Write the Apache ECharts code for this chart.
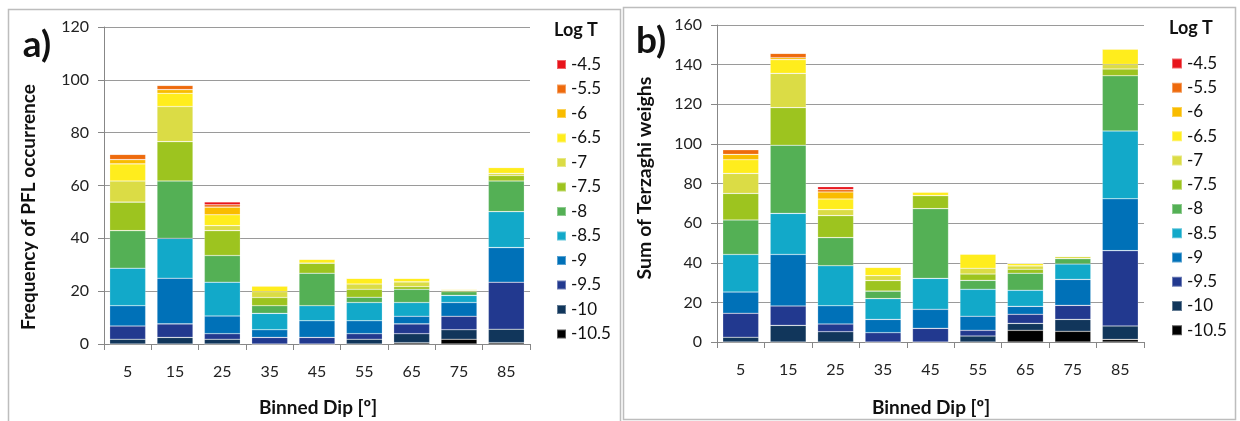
<!DOCTYPE html>
<html>
<head>
<meta charset="utf-8">
<script src="https://cdn.jsdelivr.net/npm/echarts@6/dist/echarts.min.js"></script>
<style>
html,body{margin:0;padding:0;background:#fff;}
#c{width:1240px;height:421px;}
</style>
</head>
<body>
<div id="c"></div>
<script>
// ---- data ----
const categories = ['5','15','25','35','45','55','65','75','85'];
const logTLevels = ['-10.5','-10','-9.5','-9','-8.5','-8','-7.5','-7','-6.5','-6','-5.5','-4.5'];
const levelColors = ['#000000','#11365b','#22398f','#0071b8','#12a9c9','#54b055','#9dc41f','#dbdc45','#ffed1d','#f9bc00','#ee6a0c','#e8141b'];

// panel a) Frequency of PFL occurrence
const freq_m105 = [0,0,0,0,0,0,0.5,1.8,0.5];
const freq_m10  = [1.8,2.5,1.8,0,0,1.8,3.4,3.6,5.1];
const freq_m95  = [5,5.1,2.1,2.5,2.5,2.1,3.7,5.1,17.8];
const freq_m9   = [7.7,17.3,6.7,2.9,6.3,4.9,2.9,5.2,13.1];
const freq_m85  = [14.2,15.1,12.8,6.2,5.7,6.9,5.2,2.7,13.6];
const freq_m8   = [14.2,21.7,10.1,2.9,12.3,2,5,1.4,11.6];
const freq_m75  = [10.8,14.9,9.4,3.1,3.8,3,1,0.5,2.1];
const freq_m7   = [8,13.3,1.9,2.2,0,2,1.8,0,0.8];
const freq_m65  = [6.5,5,4.1,2.2,1.5,2.2,1.4,0.4,2.2];
const freq_m6   = [1.6,1.4,2.9,0,0,0,0,0,0];
const freq_m55  = [2,1.6,0.9,0,0,0,0,0,0];
const freq_m45  = [0,0,1.1,0,0,0,0,0,0];

// panel b) Sum of Terzaghi weighs
const terz_m105 = [0,0,0,0,0,0,5.9,5.4,1.3];
const terz_m10  = [2.4,8.4,5.2,0,0,3,3.5,6,6.8];
const terz_m95  = [12.1,9.8,3.9,4.7,6.9,2.9,4.6,7.1,38];
const terz_m9   = [10.7,26,9.2,6.7,9.6,7.1,4,13.1,26.2];
const terz_m85  = [19,20.7,20.2,10.5,15.6,13.6,8.1,7.8,34.2];
const terz_m8   = [17.4,34.4,14.2,3.8,35.2,4.5,8.6,2.7,27.9];
const terz_m75  = [13.4,19,11.1,5.3,6.6,3.2,2,0,3.4];
const terz_m7   = [10.1,17.3,3,2.5,0,2.9,1.7,1.1,2.3];
const terz_m65  = [6.9,6.9,5.4,4.2,1.8,7.2,1.3,0,7.8];
const terz_m6   = [2.7,1,3.5,0,0,0,0,0,0];
const terz_m55  = [2.4,2.2,1.2,0,0,0,0,0,0];
const terz_m45  = [0,0,1.5,0,0,0,0,0,0];

const freqSeries = [freq_m105,freq_m10,freq_m95,freq_m9,freq_m85,freq_m8,freq_m75,freq_m7,freq_m65,freq_m6,freq_m55,freq_m45];
const terzSeries = [terz_m105,terz_m10,terz_m95,terz_m9,terz_m85,terz_m8,terz_m75,terz_m7,terz_m65,terz_m6,terz_m55,terz_m45];

const FONT = 'Lato, "Open Sans", sans-serif';
const chart = echarts.init(document.getElementById('c'), null, {renderer:'canvas'});

function xAxisCfg(gi){
  return {
    type:'category', gridIndex:gi, data:categories,
    axisLine:{lineStyle:{color:'#878787', width:1}},
    axisTick:{show:true, length:6, lineStyle:{color:'#878787'}},
    axisLabel:{color:'#222', fontSize:16, fontFamily:FONT, margin:20}
  };
}
function yAxisCfg(gi, max){
  return {
    type:'value', gridIndex:gi, min:0, max:max, interval:20,
    axisLine:{show:true, lineStyle:{color:'#878787'}},
    axisTick:{show:true, length:6, lineStyle:{color:'#878787'}},
    axisLabel:{color:'#222', fontSize:16, fontFamily:FONT, margin:15},
    splitLine:{lineStyle:{color:'#9a9a9a', width:1}}
  };
}

const series = [];
freqSeries.forEach((d,i)=>{
  series.push({name:logTLevels[i], type:'bar', stack:'a', xAxisIndex:0, yAxisIndex:0, data:d,
    barWidth:36, itemStyle:{color:levelColors[i], borderColor:'rgba(255,255,255,0.35)', borderWidth:0.6},
    emphasis:{disabled:true}});
});
terzSeries.forEach((d,i)=>{
  series.push({name:logTLevels[i], type:'bar', stack:'b', xAxisIndex:1, yAxisIndex:1, data:d,
    barWidth:36, itemStyle:{color:levelColors[i], borderColor:'rgba(255,255,255,0.35)', borderWidth:0.6},
    emphasis:{disabled:true}});
});

const legendOrder = logTLevels.slice().reverse();
function legendCfg(left, top, gap, sz){
  return {
    orient:'vertical', left:left, top:top, data:legendOrder, padding:0,
    itemWidth:sz, itemHeight:sz, itemGap:gap, icon:'rect',
    textStyle:{fontSize:17, fontFamily:FONT, color:'#111', lineHeight:16},
    selectedMode:false
  };
}

const option = {
  animation:false,
  backgroundColor:'#fff',
  grid:[
    {left:104, top:27, width:426, height:317},
    {left:717, top:25, width:427, height:317}
  ],
  xAxis:[xAxisCfg(0), xAxisCfg(1)],
  yAxis:[yAxisCfg(0,120), yAxisCfg(1,160)],
  legend:[legendCfg(556, 56, 7.5, 9), legendCfg(1171, 55, 7.25, 10)],
  series:series,
  graphic:[
    {type:'rect', shape:{x:8.5,y:9.5,width:612,height:440}, style:{fill:'none', stroke:'#bdbdbd', lineWidth:1.5}, silent:true},
    {type:'rect', shape:{x:623.5,y:7.5,width:612,height:412}, style:{fill:'none', stroke:'#bdbdbd', lineWidth:1.5}, silent:true},
    {type:'text', x:37, y:45, style:{text:'a)', font:'bold 37px '+FONT, fill:'#111', align:'center', verticalAlign:'middle'}},
    {type:'text', x:651, y:41, style:{text:'b)', font:'bold 37px '+FONT, fill:'#111', align:'center', verticalAlign:'middle'}},
    {type:'text', x:29, y:207, rotation:Math.PI/2, style:{text:'Frequency of PFL occurrence', font:'bold 19px '+FONT, fill:'#111', align:'center', verticalAlign:'middle'}},
    {type:'text', x:645, y:178, rotation:Math.PI/2, style:{text:'Sum of Terzaghi weighs', font:'bold 19.5px '+FONT, fill:'#111', align:'center', verticalAlign:'middle'}},
    {type:'text', x:318, y:408, style:{text:'Binned Dip [º]', font:'bold 19px '+FONT, fill:'#111', align:'center', verticalAlign:'middle'}},
    {type:'text', x:931, y:408, style:{text:'Binned Dip [º]', font:'bold 19px '+FONT, fill:'#111', align:'center', verticalAlign:'middle'}},
    {type:'text', x:576, y:30, style:{text:'Log T', font:'bold 18px '+FONT, fill:'#111', align:'center', verticalAlign:'middle'}},
    {type:'text', x:1191, y:28, style:{text:'Log T', font:'bold 18px '+FONT, fill:'#111', align:'center', verticalAlign:'middle'}}
  ]
};
chart.setOption(option);
</script>
</body>
</html>
